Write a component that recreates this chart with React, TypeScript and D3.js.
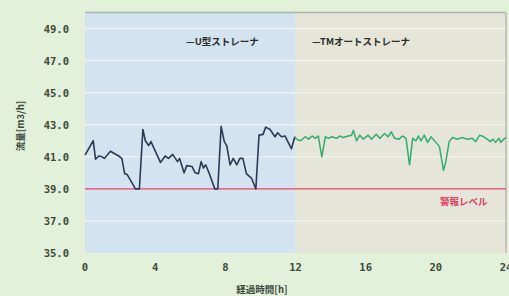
import React, { useEffect, useRef } from "react";
import * as d3 from "d3";

// U型ストレーナ (0-12h)
const uTimes = [0, 0.47, 0.6, 0.78, 0.97, 1.1, 1.45, 1.92, 2.1, 2.26, 2.4, 2.77, 2.87, 3.1, 3.3, 3.44, 3.63, 3.76, 4.3, 4.57, 4.76, 5.0, 5.27, 5.39, 5.65, 5.8, 6.1, 6.28, 6.47, 6.62, 6.75, 6.88, 7.07, 7.4, 7.57, 7.76, 7.94, 8.08, 8.27, 8.45, 8.65, 8.83, 9.0, 9.2, 9.5, 9.74, 9.92, 10.15, 10.3, 10.55, 10.83, 10.98, 11.2, 11.4, 11.77, 11.96];
const uValues = [41.1, 42.0, 40.85, 41.05, 41.0, 40.9, 41.35, 41.05, 40.9, 39.95, 39.9, 39.2, 39.0, 39.0, 42.7, 42.0, 41.7, 41.95, 40.65, 41.05, 40.9, 41.15, 40.7, 40.9, 40.0, 40.45, 40.4, 40.0, 39.95, 40.7, 40.3, 40.5, 40.0, 39.0, 39.0, 42.9, 41.95, 41.7, 40.5, 40.9, 40.5, 40.9, 40.9, 39.95, 39.65, 39.0, 42.35, 42.4, 42.85, 42.7, 42.25, 42.5, 42.25, 42.3, 41.5, 42.25];

// TMオートストレーナ (12-24h)
const tmTimes = [11.96, 12.05, 12.28, 12.56, 12.75, 12.95, 13.13, 13.3, 13.5, 13.7, 13.88, 14.07, 14.35, 14.54, 14.72, 15.0, 15.2, 15.3, 15.48, 15.67, 15.86, 16.14, 16.33, 16.6, 16.8, 17.08, 17.27, 17.46, 17.65, 17.9, 18.1, 18.3, 18.5, 18.68, 18.87, 19.0, 19.15, 19.34, 19.53, 19.72, 20.0, 20.2, 20.44, 20.57, 20.76, 20.95, 21.23, 21.5, 21.8, 22.08, 22.27, 22.5, 22.73, 22.92, 23.1, 23.26, 23.4, 23.6, 23.7, 23.87, 24.0];
const tmValues = [42.25, 42.1, 42.0, 42.25, 42.1, 42.3, 42.15, 42.3, 41.0, 42.25, 42.15, 42.25, 42.15, 42.3, 42.2, 42.3, 42.35, 42.65, 42.0, 42.35, 42.1, 42.35, 42.1, 42.4, 42.15, 42.45, 42.25, 42.55, 42.15, 42.1, 42.3, 42.15, 40.5, 42.15, 42.0, 42.3, 42.0, 42.35, 41.9, 42.25, 41.9, 41.65, 40.15, 40.7, 41.95, 42.2, 42.1, 42.2, 42.1, 42.15, 41.95, 42.35, 42.25, 42.1, 41.95, 42.1, 41.9, 42.15, 41.9, 42.1, 42.2];

const yTicks = [35, 37, 39, 41, 43, 45, 47, 49];
const xTicks = [0, 4, 8, 12, 16, 20, 24];
const alarmLevel = 39;
const switchHour = 12;

const WIDTH = 509;
const HEIGHT = 296;

export default function App() {
    const ref = useRef<SVGSVGElement>(null);

    useEffect(() => {
        const svg = d3.select(ref.current);
        svg.selectAll("*").remove();

        const left = 85, right = 506, top = 12.5, bottom = 253;
        const x = d3.scaleLinear().domain([0, 24]).range([left, right]);
        const y = d3.scaleLinear().domain([35, 50]).range([bottom, top]);
        const font = "'DejaVu Sans Mono', monospace";
        const jp = "'Noto Sans CJK JP', sans-serif";

        svg.append("rect")
            .attr("width", WIDTH).attr("height", HEIGHT)
            .attr("fill", "#e3f0da");

        // plot backgrounds
        svg.append("rect")
            .attr("x", x(0)).attr("y", top)
            .attr("width", x(switchHour) - x(0)).attr("height", bottom - top)
            .attr("fill", "#d3e3ef");
        svg.append("rect")
            .attr("x", x(switchHour)).attr("y", top)
            .attr("width", x(24) - x(switchHour)).attr("height", bottom - top)
            .attr("fill", "#e5e5da");

        // grid
        svg.selectAll(".grid")
            .data(yTicks.slice(1))
            .enter()
            .append("line")
            .attr("x1", left).attr("x2", right)
            .attr("y1", d => y(d)).attr("y2", d => y(d))
            .attr("stroke", "#f4f6f2")
            .attr("stroke-opacity", 0.8)
            .attr("stroke-width", 1.5);

        // frame
        svg.append("line")
            .attr("x1", left).attr("x2", right)
            .attr("y1", top).attr("y2", top)
            .attr("stroke", "#a9b4ae").attr("stroke-width", 1.5);
        svg.append("line")
            .attr("x1", right).attr("x2", right)
            .attr("y1", top).attr("y2", bottom)
            .attr("stroke", "#b4b8b0").attr("stroke-width", 1.5);

        // alarm line
        svg.append("line")
            .attr("x1", left).attr("x2", right)
            .attr("y1", y(alarmLevel)).attr("y2", y(alarmLevel))
            .attr("stroke", "#e0405e").attr("stroke-width", 1.3);
        svg.append("text")
            .text("警報レベル")
            .attr("x", 440).attr("y", y(alarmLevel) + 16)
            .attr("font-family", jp)
            .attr("font-weight", "bold")
            .attr("font-size", "9.5px")
            .attr("fill", "#e0405e");

        const line = d3.line<[number, number]>()
            .x(d => x(d[0]))
            .y(d => y(d[1]));

        svg.append("path")
            .datum(uTimes.map((t, i) => [t, uValues[i]] as [number, number]))
            .attr("d", line)
            .attr("fill", "none")
            .attr("stroke", "#2c3a55")
            .attr("stroke-width", 1.6)
            .attr("stroke-linejoin", "round");

        svg.append("path")
            .datum(tmTimes.map((t, i) => [t, tmValues[i]] as [number, number]))
            .attr("d", line)
            .attr("fill", "none")
            .attr("stroke", "#2fae6c")
            .attr("stroke-width", 1.5)
            .attr("stroke-linejoin", "round");

        // legends
        svg.append("text")
            .text("—U型ストレーナ")
            .attr("x", 186).attr("y", 45)
            .attr("font-family", jp)
            .attr("font-weight", "bold")
            .attr("font-size", "9.5px")
            .attr("fill", "#2a2e2a");
        svg.append("text")
            .text("—TMオートストレーナ")
            .attr("x", 312).attr("y", 45)
            .attr("font-family", jp)
            .attr("font-weight", "bold")
            .attr("font-size", "9.5px")
            .attr("fill", "#2a2e2a");

        // y tick labels
        svg.selectAll(".ylab")
            .data(yTicks)
            .enter()
            .append("text")
            .text(d => d.toFixed(1))
            .attr("x", 69)
            .attr("y", d => y(d) + 4)
            .attr("text-anchor", "end")
            .attr("font-family", font)
            .attr("font-weight", "bold")
            .attr("font-size", "10.5px")
            .attr("fill", "#3a4a3a");

        // x tick labels
        svg.selectAll(".xlab")
            .data(xTicks)
            .enter()
            .append("text")
            .text(d => d)
            .attr("x", d => x(d))
            .attr("y", 271)
            .attr("text-anchor", "middle")
            .attr("font-family", font)
            .attr("font-weight", "bold")
            .attr("font-size", "10.5px")
            .attr("fill", "#3a4a3a");

        // axis titles
        svg.append("text")
            .text("経過時間[h]")
            .attr("x", 262).attr("y", 293)
            .attr("text-anchor", "middle")
            .attr("font-family", jp)
            .attr("font-weight", "bold")
            .attr("font-size", "9.5px")
            .attr("fill", "#3a4a3a");
        svg.append("text")
            .text("流量[m3/h]")
            .attr("transform", "translate(24,126) rotate(-90)")
            .attr("text-anchor", "middle")
            .attr("font-family", jp)
            .attr("font-weight", "bold")
            .attr("font-size", "9.5px")
            .attr("fill", "#3a4a3a");
    }, []);

    return <svg ref={ref} width={WIDTH} height={HEIGHT}
        style={{ position: "absolute", left: 0, top: 0, display: "block" }} />;
}
